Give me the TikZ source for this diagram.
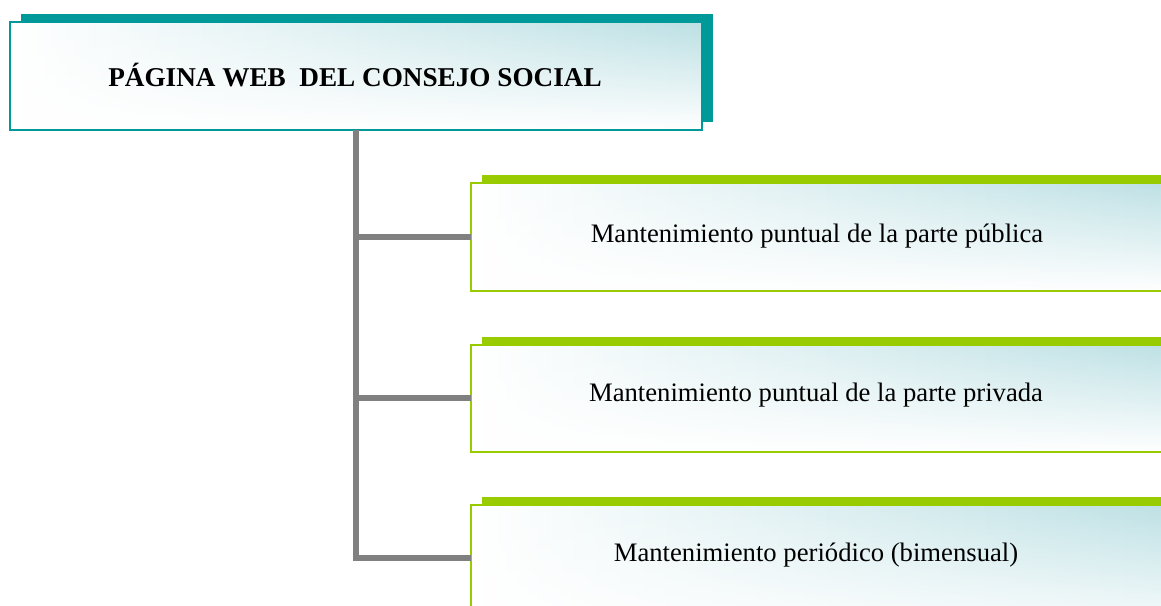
\documentclass[tikz,border=0pt]{standalone}
\usepackage{fontspec}
\setmainfont{Liberation Serif}
\usetikzlibrary{fadings}
\definecolor{tealc}{HTML}{009999}
\definecolor{greenc}{HTML}{99CC00}
\definecolor{cyanl}{HTML}{BCE0E4}
\definecolor{grayc}{HTML}{808080}
\tikzset{
  px/.style={x=0.75pt,y=-0.75pt},
  conn/.style={grayc,line width=4.5pt},
  boxtext/.style={font=\fontsize{20}{24}\selectfont,text=black},
  titletext/.style={font=\bfseries\fontsize{20.4}{24}\selectfont,text=black},
}
\newcommand{\gradbox}[5]{% x1,y1,x2,y2,color
  \fill[#5] (#1+11,#2-8) rectangle (#3+11,#4-8);
  \shade[left color=white,right color=cyanl] (#1,#2) rectangle (#3,#4);
  \fill[white,path fading=north] (#1,#2) rectangle (#3,#4);
  \draw[#5,line width=1.5pt] (#1,#2) rectangle (#3,#4);
}
\begin{document}
\begin{tikzpicture}[px]
\useasboundingbox (0,0) rectangle (1161,606);
\clip (0,0) rectangle (1161,606);
% connectors
\coordinate (top) at (355.5,130);
\coordinate (b1) at (355.5,237);
\coordinate (b2) at (355.5,398);
\coordinate (b3) at (355.5,558);
\gradbox{10}{22}{702}{130}{tealc}
\gradbox{471}{183}{1180}{291}{greenc}
\gradbox{471}{345}{1180}{452}{greenc}
\gradbox{471}{505}{1180}{640}{greenc}
\node[titletext] (title) at (355,75) {PÁGINA WEB\ \ DEL CONSEJO SOCIAL};
\node[boxtext] (m1) at (817,236) {Mantenimiento puntual de la parte pública};
\node[boxtext] (m2) at (816,395) {Mantenimiento puntual de la parte privada};
\node[boxtext] (m3) at (816,555) {Mantenimiento periódico (bimensual)};
\coordinate (e1) at (471,237);
\coordinate (e2) at (471,398);
\coordinate (e3) at (471,558);
\draw[conn] (top) -- (b3) -- (e3);
\draw[conn] (b1) -- (e1);
\draw[conn] (b2) -- (e2);
\end{tikzpicture}
\end{document}
